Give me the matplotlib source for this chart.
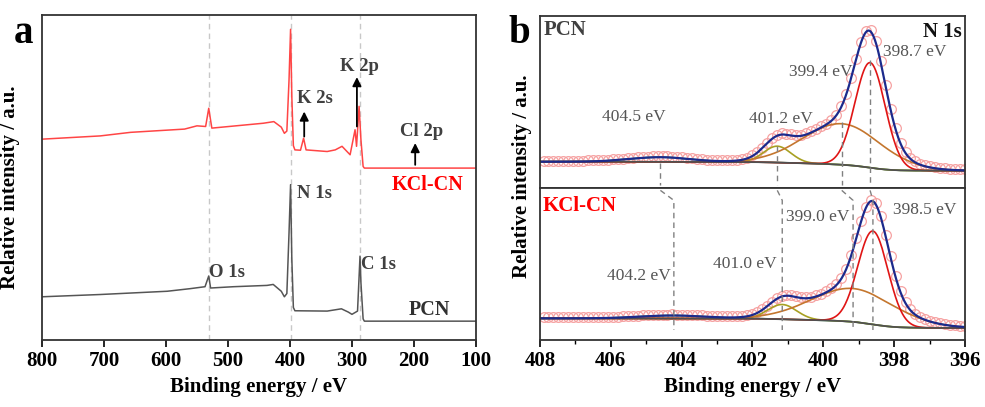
import numpy as np
import matplotlib
matplotlib.use('Agg')
import matplotlib.pyplot as plt

plt.rcParams['font.family'] = ['Liberation Serif', 'DejaVu Serif']

# ---- panel a: survey spectra (binding energy, relative intensity) ----
kcl_ev = [800, 706, 657, 570, 550, 536, 531, 526, 443, 426, 414, 409, 405, 401.5, 399, 397,
          394.5, 392, 383, 378, 374, 340, 327, 316, 303, 295, 292.6, 288.5, 285.5, 282, 280, 100]
kcl_i = [61.8, 62.8, 63.9, 64.9, 65.9, 65.7, 71.3, 65.2, 66.7, 67.2, 65.5, 63.6, 64.3, 80.0, 95.6, 75.0,
         59.8, 58.5, 58.4, 62.1, 58.5, 58.0, 58.5, 59.6, 57.0, 64.7, 59.6, 71.9, 61.6, 53.4, 52.9, 52.9]
pcn_ev = [800, 706, 598, 561, 537, 531, 528, 491, 437, 427, 414, 409, 405, 401.5, 399, 397, 394.5, 392,
          340, 317, 306, 300, 291, 287, 285.5, 282, 280, 100]
pcn_i = [13.3, 14.0, 15.0, 15.8, 16.4, 19.7, 16.0, 16.4, 16.8, 17.1, 15.0, 13.3, 14.3, 33.0, 47.8, 25.0, 10.0, 9.0,
         8.9, 9.6, 8.6, 7.9, 8.9, 25.8, 17.6, 6.5, 5.8, 5.8]
survey_lines = [531, 398.4, 286.6]

# ---- panel b: N 1s fitted components (center eV, height, FWHM eV) ----
pcn_centers = [398.68, 399.48, 401.30, 404.60]
pcn_heights = [315, 123, 49, 14]
pcn_fwhm = [1.0, 2.6, 0.9, 2.0]
pcn_bg = [48, 75]          # low / high binding energy side
pcn_labels = ['398.7 eV', '399.4 eV', '401.2 eV', '404.5 eV']

kcl_centers = [398.60, 399.16, 401.16, 404.22]
kcl_heights = [280, 100, 44, 9]
kcl_fwhm = [1.0, 2.8, 0.95, 2.2]
kcl_bg = [36, 65]
kcl_labels = ['398.5 eV', '399.0 eV', '401.0 eV', '404.2 eV']

comp_colors = ['#e01515', '#c4762e', '#a8a022', '#3a9a5a']


def gauss(x, c, h, w):
    return h * np.exp(-4 * np.log(2) * ((x - c) / w) ** 2)


def fit_curves(x, centers, heights, fwhm, bg):
    comps = [gauss(x, c, h, w) for c, h, w in zip(centers, heights, fwhm)]
    total = np.sum(comps, axis=0)
    cum = np.cumsum(total)
    shirley = bg[0] + (bg[1] - bg[0]) * cum / cum[-1]
    return comps, shirley, total + shirley


fig = plt.figure(figsize=(9.85, 4.07), dpi=100)
ax = fig.add_axes([0.0426, 0.1646, 0.4406, 0.7985])

for e in survey_lines:
    ax.axvline(e, color='#c8c8c8', ls=(0, (4, 3)), lw=1)
ax.plot(kcl_ev, kcl_i, color='#ff4545', lw=1.1)
ax.plot(pcn_ev, pcn_i, color='#555555', lw=1.1)

txt = dict(fontsize=13.5, fontweight='bold', color='#404040', va='center', ha='left')
ax.text(389, 74.4, 'K 2s', **txt)
ax.text(319, 84.1, 'K 2p', **txt)
ax.text(222.5, 64.2, 'Cl 2p', **txt)
ax.text(389, 45.2, 'N 1s', **txt)
ax.text(530, 20.7, 'O 1s', **txt)
ax.text(285.5, 23.2, 'C 1s', **txt)
ax.text(236, 47.8, 'KCl-CN', fontsize=14.5, fontweight='bold', color='#ff0000', va='center', ha='left')
ax.text(209, 9.2, 'PCN', fontsize=14.5, fontweight='bold', color='#303030', va='center', ha='left')

arr = dict(arrowstyle='-|>', color='black', lw=1.3, mutation_scale=13, shrinkA=0, shrinkB=0)
ax.annotate('', xy=(377, 70.3), xytext=(377, 62.6), arrowprops=arr)
ax.annotate('', xy=(292, 80.9), xytext=(292, 65.7), arrowprops=arr)
ax.annotate('', xy=(198, 60.6), xytext=(198, 53.9), arrowprops=arr)

ax.set_xlim(800, 100)
ax.set_ylim(0, 100)
ax.set_xticks([800, 700, 600, 500, 400, 300, 200, 100])
ax.set_yticks([])
ax.tick_params(axis='x', direction='out', length=5, width=1.2, pad=3, labelsize=15)
for t in ax.get_xticklabels():
    t.set_fontweight('bold')
ax.set_xlabel('Binding energy / eV', fontsize=15, fontweight='bold')
ax.set_ylabel('Relative intensity / a.u.', fontsize=15, fontweight='bold')
ax.yaxis.set_label_coords(-0.05, 0.47)
for s in ax.spines.values():
    s.set_linewidth(1.3)
    s.set_color('#333333')

# ---- panel b ----
axt = fig.add_axes([0.5482, 0.538, 0.4315, 0.4227])
axb = fig.add_axes([0.5482, 0.1646, 0.4315, 0.3734], sharex=axt)

xline = np.arange(396, 408.0001, 0.02)
xdot = np.arange(396, 408.0001, 0.14)

panels = [
    (axt, pcn_centers, pcn_heights, pcn_fwhm, pcn_bg, (-4, 512)),
    (axb, kcl_centers, kcl_heights, kcl_fwhm, kcl_bg, (0, 456)),
]
for a, cs, hs, ws, bg, yl in panels:
    _, _, dots = fit_curves(xdot, cs, hs, ws, bg)
    comps, shirley, env = fit_curves(xline, cs, hs, ws, bg)
    a.plot(xdot, dots + 3, 'o', ms=7, mfc='none', mec='#f6a2a2', mew=0.9)
    for comp, col in zip(comps[::-1], comp_colors[::-1]):
        a.plot(xline, comp + shirley, color=col, lw=1.2)
    a.plot(xline, shirley, color='#505050', lw=1.3)
    a.plot(xline, env, color='#1c2a8c', lw=1.6)
    a.set_ylim(*yl)
    a.set_yticks([])
    for s in a.spines.values():
        s.set_linewidth(1.3)
        s.set_color('#333333')

dash = dict(color='#808080', ls=(0, (4, 3)), lw=1)
# top panel: drop lines from each fitted peak
_, pcn_sh, _ = fit_curves(np.array(pcn_centers), pcn_centers, pcn_heights, pcn_fwhm, pcn_bg)
for i, c in enumerate(pcn_centers):
    top = pcn_sh[i] + (pcn_heights[i] if i < 3 else -5)
    axt.plot([c, c], [top, 5], **dash)
# bottom panel: shifted lines
for c0, c1 in zip(pcn_centers, kcl_centers):
    axb.plot([c0, c1, c1], [449, 419, 30], **dash)

btxt = dict(fontsize=12.5, color='#555555', va='center', ha='left')
for lab, (x, y) in zip(pcn_labels, [(398.32, 403), (400.96, 345), (402.09, 202), (406.24, 208)]):
    axt.text(x, y, lab, **btxt)
for lab, (x, y) in zip(kcl_labels, [(398.02, 390), (401.05, 370), (403.12, 227), (406.1, 192)]):
    axb.text(x, y, lab, **btxt)
axt.text(407.9, 470, 'PCN', fontsize=15, fontweight='bold', color='#404040', va='center', ha='left')
axt.text(396.1, 465, 'N 1s', fontsize=15, fontweight='bold', color='#111111', va='center', ha='right')
axb.text(407.92, 402, 'KCl-CN', fontsize=15, fontweight='bold', color='#ff0000', va='center', ha='left')

axt.set_xlim(408, 396)
axt.tick_params(axis='x', which='both', bottom=False, labelbottom=False)
axb.set_xticks(np.arange(396, 409, 2))
axb.set_xticks(np.arange(397, 408, 2), minor=True)
axb.tick_params(axis='x', which='major', direction='out', length=5, width=1.2, pad=3, labelsize=15)
axb.tick_params(axis='x', which='minor', direction='out', length=3, width=1.0)
for t in axb.get_xticklabels():
    t.set_fontweight('bold')
axb.set_xlabel('Binding energy / eV', fontsize=15, fontweight='bold')
fig.text(522 / 985, 0.568, 'Relative intensity / a.u.', rotation=90, fontsize=15, fontweight='bold',
         ha='center', va='center')

fig.text(14 / 985, 0.894, 'a', fontsize=28, fontweight='bold', va='baseline', ha='left')
fig.text(508 / 985, 0.894, 'b', fontsize=28, fontweight='bold', va='baseline', ha='left')

fig.savefig('out.png', dpi=100)
